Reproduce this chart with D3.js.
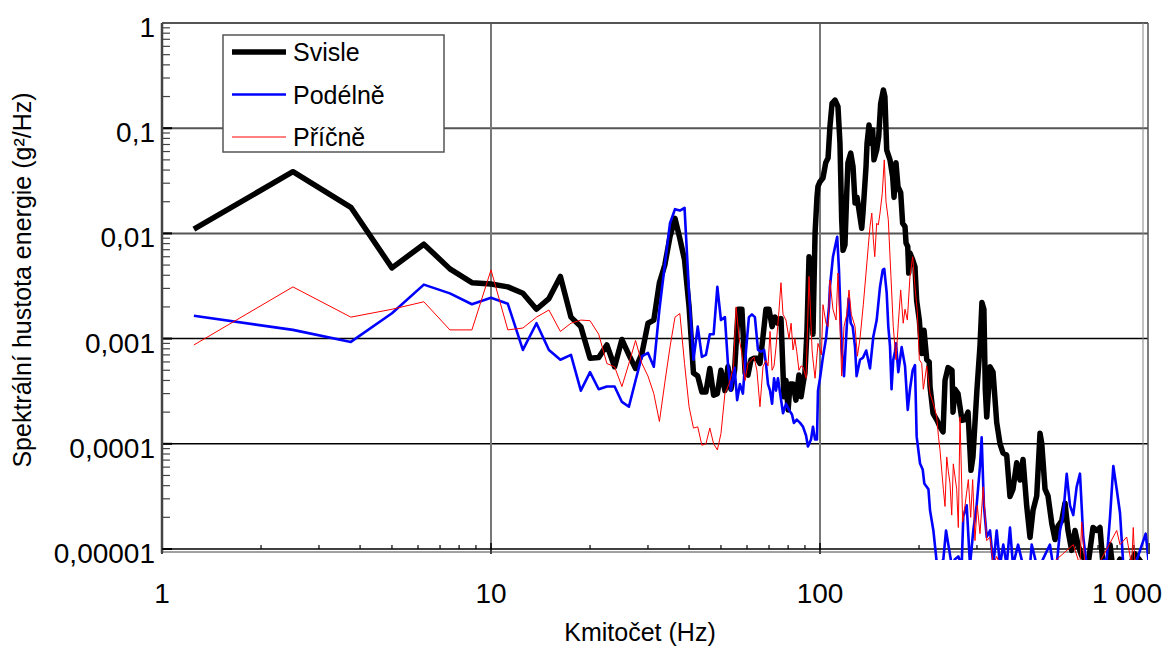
<!DOCTYPE html>
<html>
<head>
<meta charset="utf-8">
<script src="https://cdn.jsdelivr.net/npm/d3@7"></script>
<style>
  body { margin: 0; background: #fff; }
  svg { display: block; }
  text { font-family: "Liberation Sans", Arial, sans-serif; fill: #000; }
</style>
</head>
<body>
<div id="graph"></div>
<script>
// series names (legend)
const seriesNames = ["Svisle", "Podélně", "Příčně"];

// Svisle (vertical) - frequency (Hz) and PSD (g^2/Hz)
const svisleHz = [1.25,2.5,3.75,5,6.25,7.5,8.75,10,11.25,12.5,13.75,15,16.25,17.5,18.75,20,21.25,22.5,23.75,25,26.25,27.5,28.75,30,31.25,32.5,33.75,35,36.25,37.5,38.75,40,41.25,42.5,43.75,45,46.25,47.5,48.75,50,
  51.4,52.5,53.6,55,56.4,57.9,59.2,60.4,61.7,63,64.3,65.7,67.1,68.5,70,71.5,73,74.5,76.1,77.7,78.8,80,81.1,82.8,84.5,86.3,87.6,88.8,90,91.3,
  92.6,93.9,95.2,96.6,97.9,98.6,100,102.1,104.1,105.8,107.2,108.8,111.1,113.4,115,116.4,117.5,119.1,120.6,121.6,124,126,127.8,129.6,131.4,133.9,135.1,138,139,140.9,
  142.9,144.6,145.9,148.7,150.8,152.9,155.8,157.5,159.5,163.2,166.3,167.9,170.2,172.6,175.9,178.3,181.3,182.6,184.8,186.1,187.7,191.3,194.4,196.7,200.4,203.8,207.1,211.1,214.7,216,
  220.6,226.9,231.6,236.6,239.9,245,251.9,253.7,257.2,262.7,270.2,275.9,281.8,287.7,291.7,300,306.4,310.6,314.9,318,321.2,328.7,335.7,344.4,352.5,359.9,369.4,378,386,396.2,
  405.5,414.1,425,434.9,444.1,455.8,466.4,472.1,483.1,493.2,506.2,518,528.9,542.8,555.5,567.3,582.1,595.8,608.4,624.3,639,652.4,675.6,693.4,709.7,724.8,743.7,761.2,779,816,855,906,1000];
const svisle = [0.011,0.0386,0.0177,0.0047,0.0079,0.0046,0.0034,0.0033,0.0031,0.0027,0.0019,0.0024,0.0039,0.0016,0.0013,0.00065,0.00066,0.00087,0.00054,0.00098,0.0007,0.00052,0.00072,0.0014,0.0015,0.0034,0.005,0.0093,0.0139,0.0089,0.0056,0.002,0.00047,0.00044,0.00031,0.00031,0.00052,0.00029,0.0003,0.0005,
  0.00032,0.00054,0.00033,0.0005,0.0019,0.0019,0.00047,0.00045,0.00063,0.00065,0.00065,0.00058,0.00104,0.0019,0.0019,0.0013,0.0016,0.0014,0.00155,0.00028,0.0004,0.00021,0.00037,0.00037,0.00026,0.00045,0.00028,0.00037,0.00047,0.0012,
  0.006,0.0029,0.0011,0.01,0.022,0.028,0.031,0.0336,0.047,0.052,0.103,0.172,0.185,0.16,0.072,0.0134,0.0069,0.0078,0.0244,0.047,0.058,0.043,0.0195,0.022,0.0166,0.0112,0.0156,0.043,0.072,0.107,
  0.072,0.096,0.05,0.062,0.083,0.172,0.231,0.2,0.062,0.05,0.0345,0.022,0.047,0.0278,0.0244,0.0125,0.0116,0.0081,0.0075,0.0042,0.0065,0.0056,0.0048,0.0023,0.0015,0.00072,0.0012,0.00063,0.0006,0.00035,
  0.000195,0.000167,0.000145,0.00013,0.0004,0.00053,0.0005,0.0002,0.00033,0.0003,0.000167,0.00017,0.0002,0.000056,0.000075,0.00033,0.00085,0.0022,0.0019,0.00033,0.00018,0.00054,0.00048,0.00016,0.0001,0.000082,0.000078,0.0000316,0.000037,0.000066,
  0.0000452,0.000071,0.0000254,0.0000129,0.0000233,0.000032,0.000126,0.0001,0.000037,0.000032,0.0000176,0.0000123,0.0000165,0.0000185,0.0000273,0.000015,0.0000097,0.000015,0.000011,0.0000086,0.000008,0.000007,0.000016,0.000015,0.000016,0.000007,0.000006,0.000011,0.000006,0.000008,0.000006,0.000009,0.000006];

// Podélně (longitudinal)
const podelneHz = [1.25,2.5,3.75,5,6.25,7.5,8.75,10,11.25,12.5,13.75,15,16.25,17.5,18.75,20,21.25,22.5,23.75,25,26.25,27.5,28.75,30,31.25,32.5,33.75,35,36.25,37.5,38.75,40,41.25,42.5,43.75,45,46.25,47.5,48.75,50,
  51.4,52.5,53.6,55,56,57.1,58.3,59.6,60.8,62.1,63.4,64.8,66.2,67.6,68.5,69.5,70.5,71.5,72.5,73.5,74.5,77.2,78.8,80.5,82.2,83.3,85,87,88.8,90.7,
  91.9,93.9,95.2,96.6,97.9,98.6,100,102.1,104.3,106.5,107.2,109.5,111.9,112.8,114.2,116.4,118.3,120.6,122.2,124,125.7,127.8,129.2,132.3,135.1,138.2,141.9,145.2,148.7,152.2,
  155.1,156.8,159.5,161.3,163.2,165,167,169,170.2,173,177.1,181.3,184.8,187.7,191.3,194.4,196.7,201.4,205.2,207.5,213.6,216,221.1,226.3,231.6,237.1,241.6,245.5,251.4,257.2,
  263.3,269.6,272.6,279.2,285.7,292.4,299.3,306.4,310,314.9,321.2,328.7,336.4,344.4,352.5,360.6,369.4,378,386,400,414.1,434.9,440,455.8,466.4,499.9,510.8,524,536.4,547.7,
  562.2,575.2,588.6,602.7,616.9,631.2,646.5,675.6,743.7,761.2,779,797.7,816.4,835.4,906.6,977.2,1000];
const podelne = [0.00165,0.00121,0.00093,0.00174,0.00326,0.00269,0.00212,0.00245,0.00214,0.00078,0.0014,0.00078,0.00063,0.0007,0.00032,0.00048,0.00033,0.00035,0.00035,0.00025,0.000225,0.0004,0.00068,0.00073,0.00054,0.0019,0.005,0.0125,0.017,0.0165,0.0175,0.0027,0.00063,0.0013,0.00067,0.0007,0.0011,0.0011,0.0031,0.0015,
  0.0016,0.00058,0.00032,0.00053,0.00026,0.00037,0.0003,0.00078,0.0016,0.0017,0.0016,0.00078,0.00075,0.00078,0.00058,0.00037,0.00032,0.00024,0.00042,0.00032,0.00042,0.000195,0.00024,0.00021,0.00019,0.000158,0.00017,0.000158,0.000145,0.00012,
  0.0000943,0.00011,0.000145,0.00011,0.00011,0.00032,0.00042,0.00067,0.001,0.002,0.0031,0.006,0.0083,0.0093,0.0045,0.00083,0.00044,0.0013,0.0024,0.0014,0.0013,0.00083,0.00044,0.00063,0.00066,0.00077,0.00052,0.00104,0.0015,0.0031,
  0.0045,0.0046,0.0027,0.0013,0.00085,0.00033,0.00063,0.00075,0.0009,0.00048,0.00083,0.00055,0.00021,0.00033,0.0005,0.00056,0.000117,0.000065,0.000057,0.000042,0.000037,0.0000233,0.000015,0.0000075,0.000007,0.000008,0.000015,0.000011,0.000007,0.000008,
  0.0000085,0.000007,0.0000203,0.000026,0.000007,0.000015,0.000026,0.0000615,0.000115,0.000026,0.000013,0.000015,0.000007,0.000015,0.000007,0.000011,0.000007,0.000016,0.000007,0.000011,0.000007,0.000007,0.000011,0.000007,0.000007,0.000011,0.000007,0.000007,0.000015,0.00002,
  0.0000519,0.000026,0.000021,0.000039,0.000052,0.000013,0.000007,0.000007,0.000008,0.00002,0.0000615,0.000037,0.000022,0.000007,0.000007,0.000014,0.000007];

// Příčně (transverse)
const pricneHz = [1.25,2.5,3.75,5,6.25,7.5,8.75,10,11.25,12.5,13.75,15,16.25,17.5,18.75,20,21.25,22.5,23.75,25,26.25,27.5,28.75,30,31.25,32.5,33.75,35,36.25,37.5,38.75,40,41.25,42.5,43.75,45,46.25,47.5,48.75,50,
  51.4,52.9,54.6,55.6,56.8,57.9,59.2,60.4,61.7,63,64.3,65.7,67.1,68.5,69.5,70.5,71.5,72.5,73.5,75,76.1,77.2,78.8,80.5,81.7,82.8,83.9,85,86.3,87.6,
  88.8,90.7,92.6,94.6,95.2,96.6,98.6,101,102.1,104.3,105.8,107.2,109.5,111.9,113.4,115,116.4,118.3,120.6,122.5,124.5,127.8,129.9,132.3,135.4,138,140.2,141.9,143.7,145.2,
  146.7,148.7,150.4,152.2,154.6,156.8,158.7,161.3,164.3,167,170.2,173,175.9,179,181.3,184.3,187.7,191.3,194.4,197.6,200.4,203.8,206.1,211.1,216,221.1,226.3,229.1,231.6,234.5,
  237.1,239.9,242.8,245.5,248.4,251.4,254.2,260.3,263.3,266.4,271.4,275.9,282.4,287.1,291.1,295.8,300.6,306.4,313.4,321.2,328.7,336.4,344.4,352.5,400,500,588.6,616.9,624.3,639,
  700,797.7,816.4,855.5,885.9,895.7,906.6,977.2,1000];
const pricne = [0.00087,0.0031,0.0016,0.0019,0.00224,0.00121,0.00121,0.0045,0.00121,0.00126,0.0016,0.00187,0.00117,0.0014,0.0015,0.00148,0.0011,0.00058,0.00054,0.00035,0.00058,0.00096,0.00058,0.00044,0.0003,0.000163,0.00038,0.00083,0.0016,0.00173,0.00058,0.000225,0.000141,0.000145,0.0000969,0.0001,0.000141,0.0001,0.0000875,0.000125,
  0.0003,0.00037,0.00054,0.002,0.001,0.00072,0.0004,0.00058,0.00062,0.00067,0.0005,0.000225,0.00054,0.00062,0.00055,0.00117,0.0005,0.00055,0.00083,0.0018,0.0034,0.0017,0.0015,0.001,0.0014,0.00078,0.001,0.00075,0.0005,0.00055,
  0.00054,0.00042,0.0039,0.00078,0.00063,0.00042,0.0009,0.0007,0.0021,0.0014,0.0013,0.0036,0.0019,0.0015,0.0042,0.0013,0.00044,0.0013,0.0017,0.0029,0.0017,0.0013,0.00068,0.001,0.0021,0.0042,0.0075,0.0116,0.0156,0.0089,
  0.006,0.0125,0.012,0.0156,0.0239,0.05,0.02,0.0135,0.0039,0.0013,0.00063,0.0014,0.0029,0.0014,0.0019,0.0015,0.0039,0.006,0.0031,0.0018,0.00063,0.00058,0.00033,0.00055,0.0003,0.00024,0.00018,0.000118,0.0000875,0.000055,
  0.000037,0.0000254,0.000075,0.000055,0.000042,0.000021,0.0000645,0.000037,0.000016,0.00018,0.000018,0.000026,0.0000457,0.00002,0.0000457,0.000012,0.000026,0.000014,0.000039,0.000012,0.000013,0.000007,0.0000085,0.000007,0.000007,0.000007,0.000011,0.000007,0.000018,0.000007,
  0.000007,0.000015,0.000011,0.000013,0.000007,0.000016,0.000007,0.000007,0.000007];

// axis ticks
const xTicks = [1, 10, 100, 1000];
const xTickLabels = ["1", "10", "100", "1 000"];
const yTicks = [1, 0.1, 0.01, 0.001, 0.0001, 0.00001];
const yTickLabels = ["1", "0,1", "0,01", "0,001", "0,0001", "0,00001"];

const W = 1170, H = 647;
const plot = { left: 162, right: 1148, top: 23, bottom: 549 };

const svg = d3.select("#graph").append("svg")
  .attr("width", W).attr("height", H)
  .attr("viewBox", `0 0 ${W} ${H}`);

const x = d3.scaleLog().domain([1, 1000]).range([plot.left, 1149]);
const y = d3.scaleLog().domain([0.00001, 1]).range([plot.bottom, plot.top]);

// grid lines
svg.append("g").selectAll("line").data(yTicks.slice(1, 5)).enter().append("line")
  .attr("x1", plot.left).attr("x2", plot.right)
  .attr("y1", d => y(d)).attr("y2", d => y(d))
  .attr("stroke", (d, i) => i < 2 ? "#555" : "#000")
  .attr("stroke-width", (d, i) => i < 2 ? 2 : 1.5);

svg.append("g").selectAll("line").data([10, 100]).enter().append("line")
  .attr("x1", d => x(d)).attr("x2", d => x(d))
  .attr("y1", plot.top).attr("y2", plot.bottom)
  .attr("stroke", "#777").attr("stroke-width", 2);

// minor ticks
const minors = [];
for (let dec = 1; dec < 1000; dec *= 10) for (let k = 2; k <= 9; k++) minors.push(dec * k);
const yMinors = [];
for (let dec = 0.00001; dec < 0.9; dec *= 10) for (let k = 2; k <= 9; k++) yMinors.push(dec * k);

svg.append("g").selectAll("line").data(minors).enter().append("line")
  .attr("x1", d => x(d)).attr("x2", d => x(d))
  .attr("y1", plot.bottom - 4).attr("y2", plot.bottom)
  .attr("stroke", "#000").attr("stroke-width", 1.2);

svg.append("g").selectAll("line").data(xTicks).enter().append("line")
  .attr("x1", d => x(d)).attr("x2", d => x(d))
  .attr("y1", plot.bottom - 6).attr("y2", plot.bottom + 5)
  .attr("stroke", "#000").attr("stroke-width", 1.5);

svg.append("g").selectAll("line").data(yMinors).enter().append("line")
  .attr("x1", plot.left).attr("x2", plot.left + 8)
  .attr("y1", d => y(d)).attr("y2", d => y(d))
  .attr("stroke", "#444").attr("stroke-width", 1.2);

svg.append("g").selectAll("line").data(yTicks).enter().append("line")
  .attr("x1", plot.left).attr("x2", plot.left + 10)
  .attr("y1", d => y(d)).attr("y2", d => y(d))
  .attr("stroke", "#000").attr("stroke-width", 2);

// frame
svg.append("line").attr("x1", plot.left).attr("x2", plot.right)
  .attr("y1", plot.top).attr("y2", plot.top)
  .attr("stroke", "#555").attr("stroke-width", 2);
svg.append("line").attr("x1", plot.right).attr("x2", plot.right)
  .attr("y1", plot.top).attr("y2", plot.bottom + 3)
  .attr("stroke", "#555").attr("stroke-width", 1.5);
svg.append("line").attr("x1", plot.right - 5).attr("x2", plot.right - 5)
  .attr("y1", plot.top).attr("y2", plot.bottom)
  .attr("stroke", "#888").attr("stroke-width", 1);
svg.append("line").attr("x1", plot.left).attr("x2", plot.left)
  .attr("y1", plot.top).attr("y2", plot.bottom + 4)
  .attr("stroke", "#444").attr("stroke-width", 2.5);
svg.append("line").attr("x1", plot.left).attr("x2", plot.right)
  .attr("y1", plot.bottom).attr("y2", plot.bottom)
  .attr("stroke", "#000").attr("stroke-width", 1.5);
svg.append("line").attr("x1", plot.left).attr("x2", plot.right)
  .attr("y1", plot.bottom + 3).attr("y2", plot.bottom + 3)
  .attr("stroke", "#444").attr("stroke-width", 1.2);

// data lines
svg.append("defs").append("clipPath").attr("id", "clip")
  .append("rect").attr("x", plot.left).attr("y", plot.top)
  .attr("width", plot.right - plot.left).attr("height", 560 - plot.top);

const line = d3.line().x(d => x(d[0])).y(d => y(d[1]));
const series = [
  { name: seriesNames[0], data: d3.zip(svisleHz, svisle), color: "#000000", width: 5.5 },
  { name: seriesNames[1], data: d3.zip(podelneHz, podelne), color: "#0000ff", width: 2.6 },
  { name: seriesNames[2], data: d3.zip(pricneHz, pricne), color: "#ff0000", width: 1 }
];

svg.append("g").attr("clip-path", "url(#clip)")
  .selectAll("path").data(series).enter().append("path")
  .attr("d", d => line(d.data))
  .attr("fill", "none")
  .attr("stroke", d => d.color)
  .attr("stroke-width", d => d.width)
  .attr("stroke-linejoin", "round");

// tick labels
svg.append("g").selectAll("text").data(yTicks).enter().append("text")
  .attr("x", 155).attr("y", d => y(d) + 14)
  .attr("text-anchor", "end").attr("font-size", 28)
  .text((d, i) => yTickLabels[i]);

svg.append("g").selectAll("text").data(xTicks).enter().append("text")
  .attr("x", (d, i) => i === 3 ? 1162 : x(d)).attr("y", 603)
  .attr("text-anchor", (d, i) => i === 3 ? "end" : "middle").attr("font-size", 28)
  .text((d, i) => xTickLabels[i]);

// axis titles
svg.append("text").attr("x", 640).attr("y", 641)
  .attr("text-anchor", "middle").attr("font-size", 25)
  .text("Kmitočet (Hz)");

svg.append("text").attr("transform", "translate(31,280) rotate(-90)")
  .attr("text-anchor", "middle").attr("font-size", 25)
  .text("Spektrální hustota energie (g²/Hz)");

// legend
const lg = svg.append("g");
lg.append("rect").attr("x", 223).attr("y", 35).attr("width", 221).attr("height", 117)
  .attr("fill", "#fff").attr("stroke", "#555").attr("stroke-width", 1.5);
const rows = lg.selectAll("g").data(series).enter().append("g")
  .attr("transform", (d, i) => `translate(0,${52 + i * 42.5})`);
rows.append("line").attr("x1", 232).attr("x2", 286).attr("y1", 0).attr("y2", 0)
  .attr("stroke", d => d.color).attr("stroke-width", d => d.width);
rows.append("text").attr("x", 293).attr("y", 9).attr("font-size", 25)
  .text(d => d.name);
</script>
</body>
</html>
